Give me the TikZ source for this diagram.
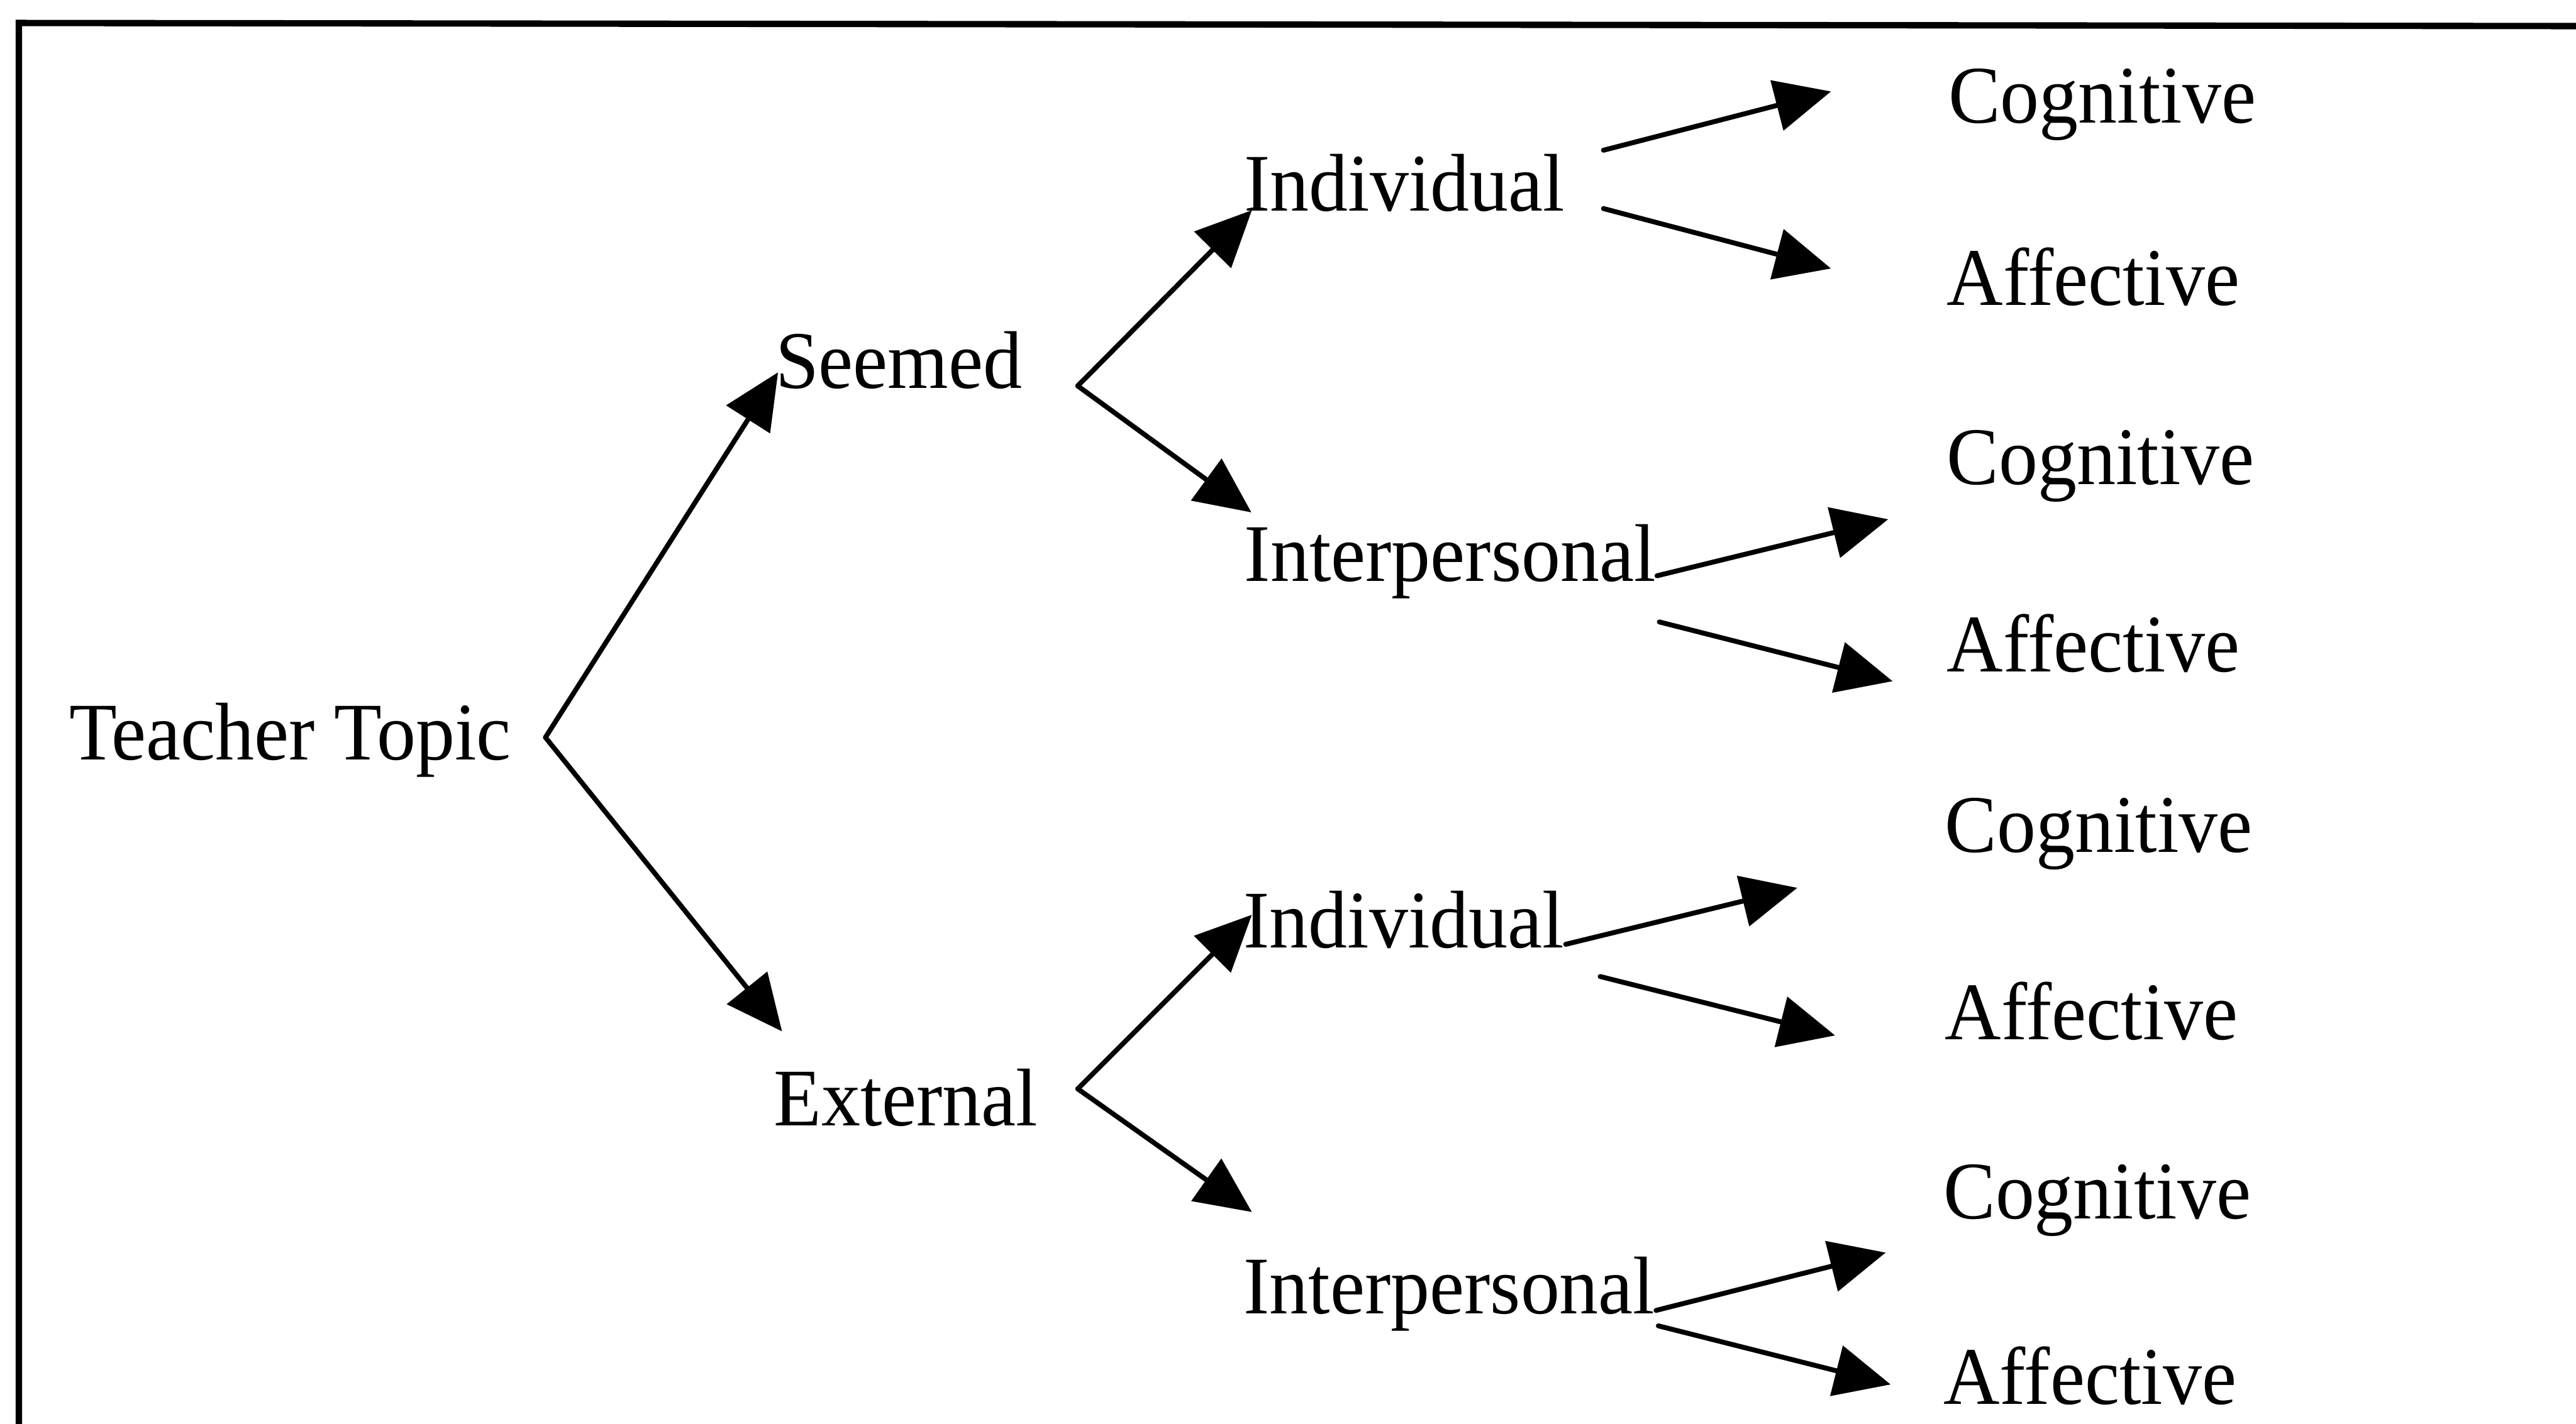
\documentclass[tikz,border=0pt]{standalone}
\usepackage{fontspec}
\setmainfont{Liberation Serif}
\usetikzlibrary{arrows.meta,calc}

\newcommand{\lbltext}[1]{\scalebox{1}[1.05]{#1}}

\tikzset{
  lbl/.style={anchor=base west, inner sep=0pt, outer sep=0pt,
              font=\fontsize{13.5pt}{16pt}\selectfont},
  arr/.style={line width=0.85pt, line cap=round,
              -{Triangle[length=0.34cm,width=0.31cm]}},
  frame/.style={line width=1.1pt}
}

\begin{document}
\begin{tikzpicture}
  \useasboundingbox (0,0) rectangle (15.68,-8.67);
  \clip (0,0) rectangle (15.68,-8.67);

  % outer frame (only its left and top sides fall inside the picture)
  \draw[frame] (0.115,-9.5) -- (0.115,-0.140) -- (16.5,-0.160);

  % labels
  \node[lbl] (tt)       at (0.423,-4.627) {\lbltext{Teacher\ Topic}};
  \node[lbl] (seemed)   at (4.72,-2.365)  {\lbltext{Seemed}};
  \node[lbl] (external) at (4.71,-6.855)  {\lbltext{External}};

  \node[lbl] (ind1) at (7.574,-1.285) {\lbltext{Individual}};
  \node[lbl] (int1) at (7.575,-3.54)  {\lbltext{Interpersonal}};
  \node[lbl] (ind2) at (7.57,-5.77)   {\lbltext{Individual}};
  \node[lbl] (int2) at (7.57,-8.00)   {\lbltext{Interpersonal}};

  \node[lbl] (cog1) at (11.86,-0.75) {\lbltext{Cognitive}};
  \node[lbl] (aff1) at (11.85,-1.86) {\lbltext{Affective}};
  \node[lbl] (cog2) at (11.85,-2.95) {\lbltext{Cognitive}};
  \node[lbl] (aff2) at (11.85,-4.09) {\lbltext{Affective}};
  \node[lbl] (cog3) at (11.84,-5.19) {\lbltext{Cognitive}};
  \node[lbl] (aff3) at (11.84,-6.33) {\lbltext{Affective}};
  \node[lbl] (cog4) at (11.83,-7.42) {\lbltext{Cognitive}};
  \node[lbl] (aff4) at (11.83,-8.55) {\lbltext{Affective}};

  % first split
  \draw[arr] ($(tt.base west)+(2.897,0.137)$) -- ($(seemed.base west)+(0.016,0.098)$);
  \draw[arr] ($(tt.base west)+(2.897,0.137)$) -- ($(external.base west)+(0.05,0.575)$);

  % second split
  \draw[arr] ($(seemed.base west)+(1.84,0.015)$) -- ($(ind1.base west)+(0.046,0.005)$);
  \draw[arr] ($(seemed.base west)+(1.84,0.015)$) -- ($(int1.base west)+(0.042,0.42)$);
  \draw[arr] ($(external.base west)+(1.85,0.225)$) -- ($(ind2.base west)+(0.05,0.20)$);
  \draw[arr] ($(external.base west)+(1.85,0.225)$) -- ($(int2.base west)+(0.05,0.62)$);

  % third split
  \draw[arr] ($(ind1.base west)+(2.186,0.37)$)   -- ($(cog1.base west)+(-0.715,0.193)$);
  \draw[arr] ($(ind1.base west)+(2.186,0.015)$)  -- ($(aff1.base west)+(-0.705,0.225)$);
  \draw[arr] ($(int1.base west)+(2.511,0.034)$)  -- ($(cog2.base west)+(-0.357,-0.212)$);
  \draw[arr] ($(int1.base west)+(2.525,-0.247)$) -- ($(aff2.base west)+(-0.33,-0.058)$);
  \draw[arr] ($(ind2.base west)+(1.96,0.02)$)    -- ($(cog3.base west)+(-0.90,-0.216)$);
  \draw[arr] ($(ind2.base west)+(2.17,-0.176)$)  -- ($(aff3.base west)+(-0.67,0.025)$);
  \draw[arr] ($(int2.base west)+(2.51,0.021)$)   -- ($(cog4.base west)+(-0.352,-0.207)$);
  \draw[arr] ($(int2.base west)+(2.524,-0.073)$) -- ($(aff4.base west)+(-0.322,0.12)$);
\end{tikzpicture}
\end{document}
